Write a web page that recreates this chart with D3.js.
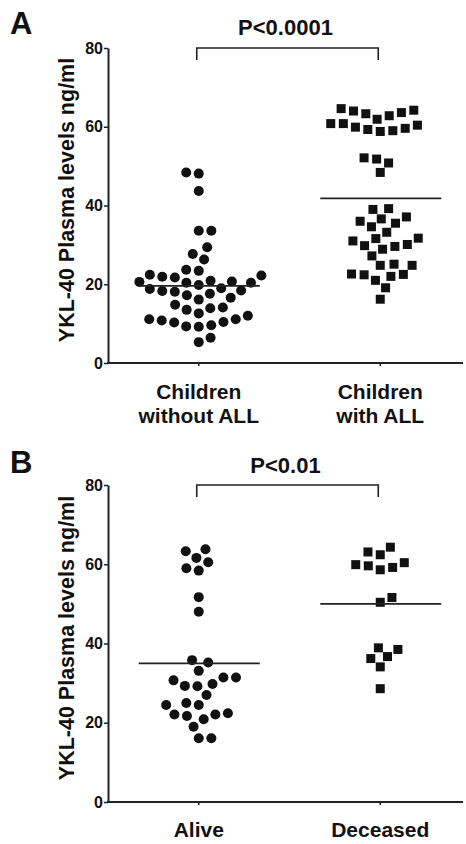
<!DOCTYPE html>
<html>
<head>
<meta charset="utf-8">
<script src="https://cdn.jsdelivr.net/npm/d3@7/dist/d3.min.js"></script>
<style>
  html, body { margin: 0; padding: 0; background: #fff; }
  svg { display: block; font-family: "Liberation Sans", Arial, Helvetica, sans-serif; }
</style>
</head>
<body>
<svg id="chart" width="466" height="844"></svg>
<script>
// ---------- data ----------
const yTickValues = [0, 20, 40, 60, 80];
const yTitle = "YKL-40 Plasma levels ng/ml";

const catsA = [["Children", "without ALL"], ["Children", "with ALL"]];
const aWithoutALL = [48.4, 48.1, 43.7, 33.6, 33.6, 29.4, 27.7, 26.3, 23.7, 23.4,
  22.2, 21.7, 20.7, 20.4, 19.8, 20.4, 20.6, 20.9, 21.9, 22.4,
  18.3, 17.6, 16.6, 18.8, 17.2, 18.1, 18.4, 19.0,
  14.8, 13.9, 16.1, 13.5, 14.1, 12.6,
  11.1, 10.8, 10.3, 9.3, 9.2, 9.6, 10.4, 11.1, 12.0, 5.3, 6.4];
const aWithALL = [64.6, 64.0, 63.3, 62.8, 63.6, 64.2, 61.9, 60.8, 59.9, 59.3, 58.8, 59.0, 59.6, 60.4, 60.8,
  52.1, 51.8, 50.8, 48.4,
  39.2, 39.0, 37.1, 36.6, 36.0, 35.5, 34.6, 33.2, 31.6, 31.7, 31.0, 30.1, 29.8, 29.6, 28.9, 27.2,
  25.1, 24.8, 24.8, 22.5, 22.0, 22.4, 22.6, 21.0, 19.1, 16.2];
const aMeans = [19.6, 41.8];
const pA = "P<0.0001";

const catsB = [["Alive"], ["Deceased"]];
const bAlive = [61.6, 63.3, 63.8, 60.5, 59.0, 58.4, 51.7, 48.0, 35.8, 35.2, 33.1,
  31.4, 30.7, 29.3, 29.2, 29.8, 31.4, 27.0, 25.0, 24.5, 24.5, 22.1, 21.7, 22.1, 22.4,
  20.9, 19.0, 16.1, 16.1];
const bDeceased = [64.3, 63.1, 62.4, 60.4, 59.6, 58.6, 59.2, 59.9, 51.6, 50.4,
  38.5, 38.9, 36.2, 36.7, 34.1, 28.6];
const bMeans = [35.0, 50.0];
const pB = "P<0.01";

// ---------- drawing ----------
const svg = d3.select("#chart");
const ink = "#111";
const axisInk = "#222";

function swarm(values, y, d) {
  const order = values.map((v, i) => i).sort((a, b) => values[a] - values[b]);
  const placed = [];
  const out = new Array(values.length);
  let flip = 1;
  for (const i of order) {
    const yi = y(values[i]);
    const cands = [0];
    for (const p of placed) {
      const dy = Math.abs(p.y - yi);
      if (dy < d) {
        const dx = Math.sqrt(d * d - dy * dy);
        cands.push(p.x + dx, p.x - dx);
      }
    }
    cands.sort((a, b) => (Math.abs(a) - Math.abs(b)) || (flip * (a - b)));
    const x = cands.find(c => placed.every(p => (p.x - c) ** 2 + (p.y - yi) ** 2 >= d * d - 0.05));
    flip = -flip;
    placed.push({ x, y: yi });
    out[i] = x;
  }
  return out;
}

function panel(cfg) {
  const g = svg.append("g");
  const y = d3.scaleLinear().domain([0, 80]).range([cfg.y0, cfg.y1]);
  const x = d3.scaleBand().domain([0, 1]).range([108, 471]).padding(0);
  const cx = i => x(i) + x.bandwidth() / 2;

  // panel letter
  g.append("text").attr("x", 10).attr("y", cfg.letterY)
    .attr("font-size", 31).attr("font-weight", "bold").attr("fill", ink).text(cfg.letter);

  // y axis
  const ya = g.append("g").attr("transform", "translate(108,0)")
    .call(d3.axisLeft(y).tickValues(yTickValues).tickSize(4).tickSizeOuter(0).tickPadding(1));
  ya.select(".domain").attr("stroke", axisInk).attr("stroke-width", 2);
  ya.selectAll(".tick line").attr("stroke", axisInk).attr("stroke-width", 1.5);
  ya.selectAll(".tick text").attr("font-size", 16).attr("font-weight", "bold")
    .attr("fill", ink).attr("font-family", "Liberation Sans, Arial, sans-serif");

  // x axis
  const xa = g.append("g").attr("transform", `translate(0,${cfg.y0})`)
    .call(d3.axisBottom(x).tickSize(3).tickFormat(() => ""));
  xa.select(".domain").remove();
  xa.selectAll(".tick line").attr("stroke", axisInk).attr("stroke-width", 1.5);
  xa.append("line").attr("x1", 107).attr("x2", 463).attr("y1", 0).attr("y2", 0)
    .attr("stroke", axisInk).attr("stroke-width", 2);

  // category labels
  cfg.cats.forEach((lines, i) => {
    const t = g.append("text").attr("text-anchor", "middle")
      .attr("font-size", 21).attr("font-weight", "bold").attr("fill", ink);
    lines.forEach((ln, k) => {
      t.append("tspan").attr("x", cx(i)).attr("y", cfg.catY + k * 24).text(ln);
    });
  });

  // y title
  g.append("text").attr("transform", `translate(74,${cfg.titleY}) rotate(-90)`)
    .attr("text-anchor", "middle").attr("font-size", 21.5).attr("font-weight", "bold")
    .attr("fill", ink).text(yTitle);

  // bracket + p value
  const by = y(cfg.bracketTop);
  g.append("path")
    .attr("d", `M${cx(0) - 2},${by + 12}V${by}H${cx(1) - 2}V${by + 12}`)
    .attr("fill", "none").attr("stroke", axisInk).attr("stroke-width", 1.6);
  g.append("text").attr("x", (cx(0) + cx(1)) / 2 - 4).attr("y", cfg.pY)
    .attr("text-anchor", "middle").attr("font-size", 22).attr("font-weight", "bold")
    .attr("fill", ink).text(cfg.p);

  // points
  const d = 12.6;
  cfg.series.forEach((vals, i) => {
    const offs = swarm(vals, y, d);
    const pts = g.append("g");
    if (i === 0) {
      pts.selectAll("circle").data(vals).join("circle")
        .attr("cx", (v, k) => cx(i) + offs[k]).attr("cy", v => y(v))
        .attr("r", 5).attr("fill", ink);
    } else {
      const s = 9;
      pts.selectAll("rect").data(vals).join("rect")
        .attr("x", (v, k) => cx(i) + offs[k] - s / 2).attr("y", v => y(v) - s / 2)
        .attr("width", s).attr("height", s).attr("fill", ink);
    }
    // mean line
    g.append("line").attr("x1", cx(i) - 60).attr("x2", cx(i) + 61)
      .attr("y1", y(cfg.means[i])).attr("y2", y(cfg.means[i]))
      .attr("stroke", axisInk).attr("stroke-width", 1.8);
  });
}

panel({
  letter: "A", letterY: 34, y0: 363, y1: 48, cats: catsA, catY: 399, titleY: 200,
  bracketTop: 80, pY: 35, p: pA, series: [aWithoutALL, aWithALL], means: aMeans
});
panel({
  letter: "B", letterY: 473, y0: 802, y1: 485, cats: catsB, catY: 837, titleY: 638,
  bracketTop: 80, pY: 473, p: pB, series: [bAlive, bDeceased], means: bMeans
});
</script>
</body>
</html>
